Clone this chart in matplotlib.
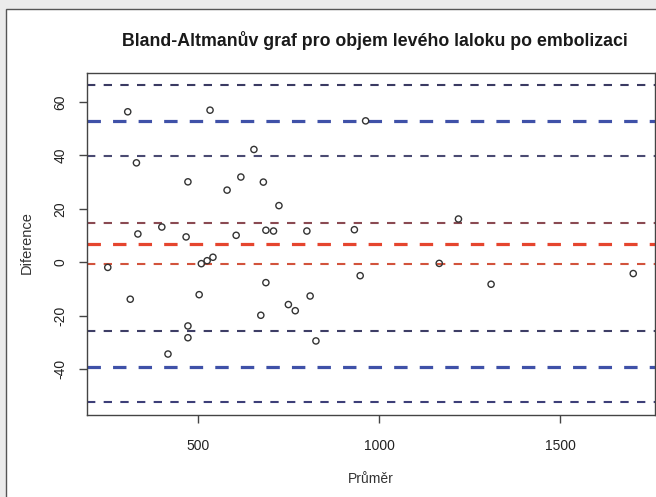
import matplotlib
matplotlib.use("Agg")
import matplotlib.pyplot as plt
from matplotlib.patches import Rectangle

plt.rcParams['font.family'] = ['Liberation Sans', 'DejaVu Sans']
plt.rcParams['axes.unicode_minus'] = False

# mean of the two measurements and their difference, one pair per patient
prumer = [252, 307, 314, 331, 335, 401, 418, 468, 473, 473, 473, 504, 510,
          526, 542, 534, 581, 606, 619, 655, 674, 681, 688, 688, 709, 724,
          750, 769, 801, 810, 826, 932, 948, 963, 1166, 1219, 1309, 1701]
diference = [-1.9, 56.3, -13.8, 37.2, 10.6, 13.2, -34.3, 9.5, 30.1, -23.8,
             -28.2, -12.1, -0.5, 0.6, 1.9, 56.9, 27.0, 10.1, 31.9, 42.2,
             -19.8, 30.0, 12.0, -7.6, 11.7, 21.2, -15.8, -18.1, 11.7, -12.6,
             -29.4, 12.2, -5.0, 52.9, -0.4, 16.2, -8.2, -4.2]

# bias and limits of agreement with their confidence bounds
bias = 6.9
bias_ci = [-0.5, 14.6]
upper_loa = 52.9
upper_ci = [39.8, 66.3]
lower_loa = -39.3
lower_ci = [-52.4, -25.7]

x_ticks = [500, 1000, 1500]
y_ticks = [-40, -20, 0, 20, 40, 60]

W, H = 656, 497
fig = plt.figure(figsize=(W / 100, H / 100), dpi=100)
fig.patch.set_facecolor('#ebebeb')
# white panel with a thin frame on the left and top
fig.add_artist(Rectangle((6 / W, -0.05), 1, 1.05 - 9 / H,
                         transform=fig.transFigure, facecolor='white',
                         edgecolor='#555555', lw=1.0, zorder=0))

ax = fig.add_axes([87 / W, 1 - 415 / H, (655 - 87) / W, (415 - 73) / H])
ax.set_facecolor('white')
ax.set_xlim(194.7, 1761)
ax.set_ylim(-57.1, 70.8)

thin = dict(lw=1.5, linestyle=(0, (4, 4)), zorder=1)
thick = dict(lw=2.3, linestyle=(0, (4.2, 3.8)), zorder=1)

ax.axhline(upper_ci[1], color='#3a3a62', **thin)
ax.axhline(upper_loa, color='#3f51a8', **thick)
ax.axhline(upper_ci[0], color='#4a4a72', **thin)
ax.axhline(bias_ci[1], color='#8a4a52', **thin)
ax.axhline(bias, color='#e5452e', **thick)
ax.axhline(bias_ci[0], color='#d2533c', **thin)
ax.axhline(lower_ci[1], color='#3e3e66', **thin)
ax.axhline(lower_loa, color='#3f51a8', **thick)
ax.axhline(lower_ci[0], color='#3d3f78', **thin)

ax.scatter(prumer, diference, s=20, facecolors='none', edgecolors='#333333',
           linewidths=1.0, zorder=3)

for sp in ax.spines.values():
    sp.set_color('#444444')
    sp.set_linewidth(1.0)

ax.set_xticks(x_ticks)
ax.set_yticks(y_ticks)
ax.tick_params(axis='both', length=6, width=1.0, color='#444444',
               labelsize=10, labelcolor='#222222')
ax.tick_params(axis='x', pad=11)
ax.tick_params(axis='y', pad=8)
for lab in ax.get_yticklabels():
    lab.set_rotation(90)
    lab.set_va('center')

fig.text(375 / W, 1 - 40 / H,
         'Bland-Altmanův graf pro objem levého laloku po embolizaci',
         ha='center', va='center', fontsize=12.8, fontweight='bold',
         color='#1a1a1a')
fig.text(371 / W, 1 - 479 / H, 'Průměr', ha='center', va='center',
         fontsize=10, color='#333333')
fig.text(27 / W, 1 - 243 / H, 'Diference', ha='center', va='center',
         rotation=90, fontsize=10.5, color='#333333')

fig.savefig('out.png', dpi=100, facecolor=fig.get_facecolor())
